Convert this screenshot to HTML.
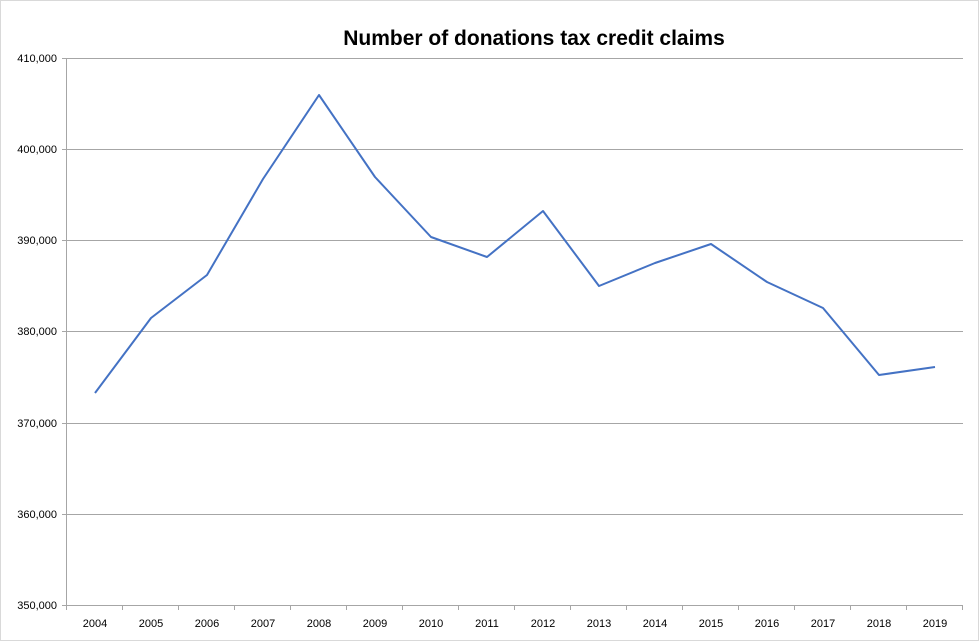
<!DOCTYPE html>
<html><head><meta charset="utf-8"><style>
html,body{margin:0;padding:0;background:#fff;}
</style></head><body>
<svg width="979" height="641" xmlns="http://www.w3.org/2000/svg" style="display:block">
<rect x="0.5" y="0.5" width="978" height="640" fill="#fff" stroke="#d9d9d9"/>
<text x="534" y="45" text-anchor="middle" font-family="Liberation Sans, sans-serif" font-weight="bold" font-size="21" fill="#000">Number of donations tax credit claims</text>
<g stroke="#a6a6a6" stroke-width="1">
<line x1="66" y1="58.5" x2="963" y2="58.5"/>
<line x1="66" y1="149.5" x2="963" y2="149.5"/>
<line x1="66" y1="240.5" x2="963" y2="240.5"/>
<line x1="66" y1="331.5" x2="963" y2="331.5"/>
<line x1="66" y1="423.5" x2="963" y2="423.5"/>
<line x1="66" y1="514.5" x2="963" y2="514.5"/>
<line x1="66" y1="605.5" x2="963" y2="605.5"/>
<line x1="66.5" y1="58" x2="66.5" y2="605"/>
</g>
<g stroke="#a6a6a6" stroke-width="1">
<line x1="62" y1="58.5" x2="66" y2="58.5"/><line x1="62" y1="149.5" x2="66" y2="149.5"/><line x1="62" y1="240.5" x2="66" y2="240.5"/><line x1="62" y1="331.5" x2="66" y2="331.5"/><line x1="62" y1="423.5" x2="66" y2="423.5"/><line x1="62" y1="514.5" x2="66" y2="514.5"/><line x1="62" y1="605.5" x2="66" y2="605.5"/>
<line x1="122.5" y1="605" x2="122.5" y2="610"/><line x1="178.5" y1="605" x2="178.5" y2="610"/><line x1="234.5" y1="605" x2="234.5" y2="610"/><line x1="290.5" y1="605" x2="290.5" y2="610"/><line x1="346.5" y1="605" x2="346.5" y2="610"/><line x1="402.5" y1="605" x2="402.5" y2="610"/><line x1="458.5" y1="605" x2="458.5" y2="610"/><line x1="514.5" y1="605" x2="514.5" y2="610"/><line x1="570.5" y1="605" x2="570.5" y2="610"/><line x1="626.5" y1="605" x2="626.5" y2="610"/><line x1="682.5" y1="605" x2="682.5" y2="610"/><line x1="738.5" y1="605" x2="738.5" y2="610"/><line x1="794.5" y1="605" x2="794.5" y2="610"/><line x1="850.5" y1="605" x2="850.5" y2="610"/><line x1="906.5" y1="605" x2="906.5" y2="610"/><line x1="962.5" y1="605" x2="962.5" y2="610"/><line x1="66.5" y1="605" x2="66.5" y2="610"/>
</g>
<g font-family="Liberation Sans, sans-serif" font-size="11" fill="#000" text-anchor="end">
<text x="57" y="62">410,000</text><text x="57" y="153">400,000</text><text x="57" y="244">390,000</text><text x="57" y="335">380,000</text><text x="57" y="427">370,000</text><text x="57" y="518">360,000</text><text x="57" y="609">350,000</text>
</g>
<g font-family="Liberation Sans, sans-serif" font-size="11" fill="#000" text-anchor="middle">
<text x="95" y="627">2004</text><text x="151" y="627">2005</text><text x="207" y="627">2006</text><text x="263" y="627">2007</text><text x="319" y="627">2008</text><text x="375" y="627">2009</text><text x="431" y="627">2010</text><text x="487" y="627">2011</text><text x="543" y="627">2012</text><text x="599" y="627">2013</text><text x="655" y="627">2014</text><text x="711" y="627">2015</text><text x="767" y="627">2016</text><text x="823" y="627">2017</text><text x="879" y="627">2018</text><text x="935" y="627">2019</text>
</g>
<polyline fill="none" stroke="#4472c4" stroke-width="2" stroke-linejoin="round" points="95,393 151,318 207,275 263,179 319,95 375,177 431,237 487,257 543,211 599,286 655,263 711,244 767,282 823,308 879,375 935,367"/>
</svg>
</body></html>
